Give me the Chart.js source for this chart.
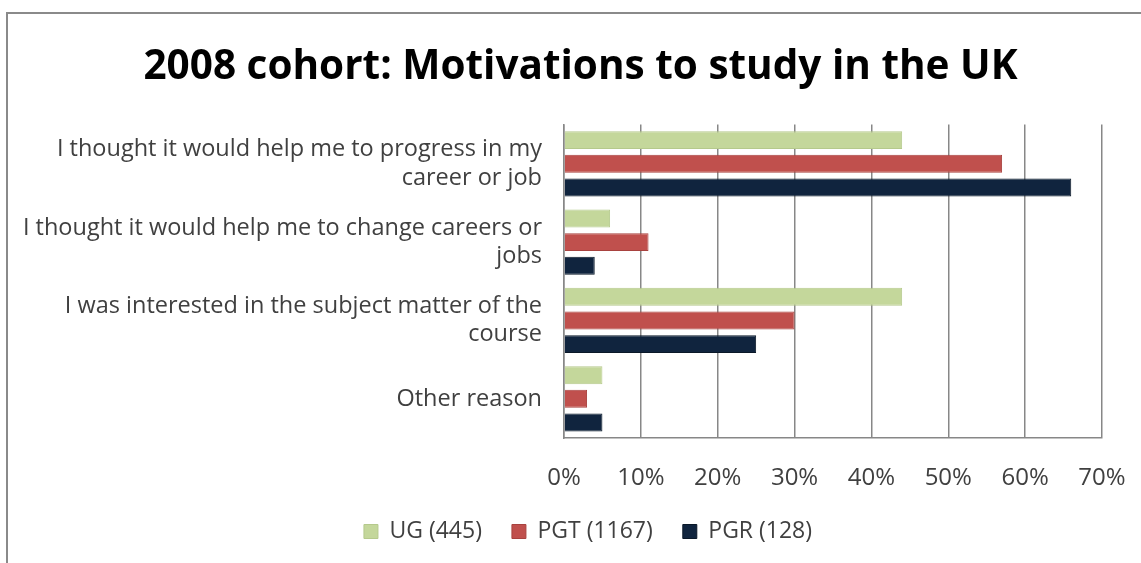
<!DOCTYPE html>
<html>
<head>
<meta charset="utf-8">
<script src="https://cdn.jsdelivr.net/npm/chart.js@4/dist/chart.umd.min.js"></script>
<style>
  html, body { margin: 0; padding: 0; background: #fff; overflow: hidden; }
  #frame { position: absolute; left: 6px; top: 12px; width: 1200px; height: 600px;
           border-left: 2px solid #8a8a8a; border-top: 2px solid #8a8a8a; }
  #wrap { position: absolute; left: 0; top: 0; width: 1141px; height: 563px; }
</style>
</head>
<body>
<div id="frame"></div>
<div id="wrap"><canvas id="chart"></canvas></div>
<script>
// categories, top to bottom
const categories = [
    ['I thought it would help me to progress in my', 'career or job'],
    ['I thought it would help me to change careers or', 'jobs'],
    ['I was interested in the subject matter of the', 'course'],
    'Other reason'
];

// percent of respondents
const ugValues = [44, 6, 44, 5];
const pgtValues = [57, 11, 30, 3];
const pgrValues = [66, 4, 25, 5];

const seriesNames = ['UG (445)', 'PGT (1167)', 'PGR (128)'];

const fontName = "'Open Sans', 'DejaVu Sans', sans-serif";
const textColor = '#404040';
const gridColor = '#878787';

function makeDataset(label, values, fill, edge) {
    return {
        label: label,
        data: values,
        backgroundColor: fill,
        borderColor: edge,
        borderWidth: 1,
        barPercentage: 0.76,
        categoryPercentage: 0.905
    };
}

// title and legend are centred over the whole frame, not the full canvas width
const shiftBlocks = {
    id: 'shiftBlocks',
    afterLayout(chart) {
        chart.titleBlock.left = 59;
        chart.legend.left = 74;
    }
};

const ctx = document.getElementById('chart').getContext('2d');
const chart = new Chart(ctx, {
    type: 'bar',
    data: {
        labels: categories,
        datasets: [
            makeDataset(seriesNames[0], ugValues, '#c4d79b', '#b5c98c'),
            makeDataset(seriesNames[1], pgtValues, '#c0504d', '#a8423f'),
            makeDataset(seriesNames[2], pgrValues, '#10243e', '#0a1828')
        ]
    },
    plugins: [shiftBlocks],
    options: {
        indexAxis: 'y',
        responsive: true,
        maintainAspectRatio: false,
        animation: false,
        layout: { padding: { left: 0, right: 39, top: 0, bottom: 10 } },
        plugins: {
            title: {
                display: true,
                text: '2008 cohort: Motivations to study in the UK',
                color: '#000',
                font: { family: fontName, size: 40.5, weight: 'bold', lineHeight: 1.2 },
                padding: { top: 43, bottom: 33 }
            },
            legend: {
                position: 'bottom',
                labels: {
                    color: textColor,
                    font: { family: fontName, size: 23 },
                    boxWidth: 14,
                    boxHeight: 14,
                    padding: 30
                }
            },
            tooltip: { enabled: false }
        },
        scales: {
            x: {
                min: 0,
                max: 70,
                ticks: {
                    stepSize: 10,
                    color: textColor,
                    font: { family: fontName, size: 24, lineHeight: 1.2 },
                    padding: 12,
                    callback: v => v + '%'
                },
                grid: {
                    color: gridColor,
                    lineWidth: 1.5,
                    drawTicks: true,
                    tickLength: 14,
                    tickColor: 'rgba(0,0,0,0)'
                },
                border: { color: gridColor, width: 1.5 },
                afterFit: scale => { scale.height = 52; }
            },
            y: {
                ticks: {
                    color: textColor,
                    font: { family: fontName, size: 23.5, lineHeight: 1.2 },
                    padding: 22
                },
                grid: { display: false, drawTicks: false },
                border: { color: gridColor, width: 1.5 },
                afterFit: scale => { scale.width = 564; }
            }
        }
    }
});
</script>
</body>
</html>
